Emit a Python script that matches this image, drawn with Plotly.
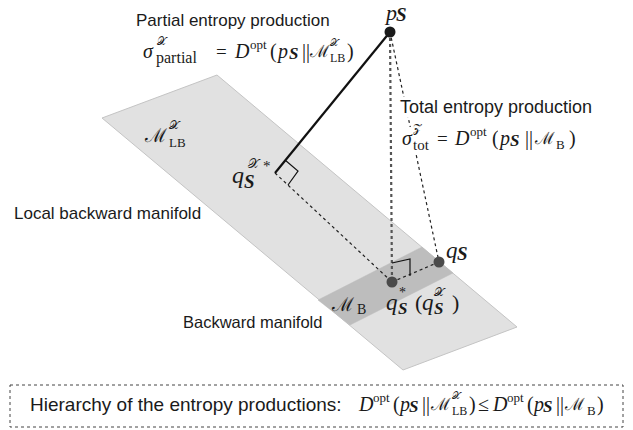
import plotly.graph_objects as go

# ---- diagram geometry (pixel-like coordinates, y downward) ----
lb_manifold_x = [217, 517, 403, 102]
lb_manifold_y = [75, 327, 370, 118]
b_manifold_x = [318, 422, 453, 350]
b_manifold_y = [300, 247, 273, 325]

point_names = ["p_S", "q_S_X_star", "q_S_star", "q_S"]
point_x = [390, 275, 392, 439]
point_y = [32, 173, 282, 262]

square1_x = [285, 298, 288]
square1_y = [160, 171, 185]
square2_x = [392, 410, 410]
square2_y = [263, 259, 276]

box_x = [10, 623]
box_y = [385, 427]

P = dict(zip(point_names, zip(point_x, point_y)))

SERIF = "Liberation Serif, DejaVu Serif, serif"
SANS = "Liberation Sans, Arial, sans-serif"
CAL = SERIF
TXT = "#1a1a1a"

fig = go.Figure()

fig.add_trace(go.Scatter(x=lb_manifold_x + [lb_manifold_x[0]], y=lb_manifold_y + [lb_manifold_y[0]],
                         mode="lines", fill="toself", fillcolor="#e1e1e1",
                         line=dict(color="#c4c4c4", width=1), hoverinfo="skip"))
fig.add_trace(go.Scatter(x=b_manifold_x + [b_manifold_x[0]], y=b_manifold_y + [b_manifold_y[0]],
                         mode="lines", fill="toself", fillcolor="#bdbdbd",
                         line=dict(color="#bdbdbd", width=0.5), hoverinfo="skip"))

def seg(a, b, **line):
    fig.add_trace(go.Scatter(x=[P[a][0], P[b][0]], y=[P[a][1], P[b][1]], mode="lines",
                             line=line, hoverinfo="skip"))

seg("q_S_X_star", "q_S_star", color="#222", width=1.2, dash="dot")
seg("q_S_star", "q_S", color="#222", width=1.2, dash="dot")
seg("p_S", "q_S", color="#222", width=1.2, dash="dot")
seg("p_S", "q_S_star", color="#555", width=2.2, dash="dot")
seg("p_S", "q_S_X_star", color="#111", width=2.2)

fig.add_trace(go.Scatter(x=square1_x, y=square1_y, mode="lines",
                         line=dict(color="#111", width=1.2), hoverinfo="skip"))
fig.add_trace(go.Scatter(x=square2_x, y=square2_y, mode="lines",
                         line=dict(color="#111", width=1.2), hoverinfo="skip"))

fig.add_trace(go.Scatter(x=[P["p_S"][0]], y=[P["p_S"][1]], mode="markers",
                         marker=dict(size=11, color="#1a1a1a"), hoverinfo="skip"))
fig.add_trace(go.Scatter(x=[P["q_S_star"][0], P["q_S"][0]], y=[P["q_S_star"][1], P["q_S"][1]],
                         mode="markers", marker=dict(size=11, color="#4a4a4a"), hoverinfo="skip"))

fig.add_shape(type="rect", x0=box_x[0], x1=box_x[1], y0=box_y[0], y1=box_y[1],
              line=dict(color="#444", width=1, dash="dot"), fillcolor="white")


def ann(x, y, text, size, font=SERIF, xanchor="left", bg=None):
    fig.add_annotation(x=x, y=y, text=text, showarrow=False, xanchor=xanchor, yanchor="middle",
                       font=dict(size=size, family=font, color=TXT),
                       bgcolor=bg, borderpad=0, borderwidth=0)


def runs(y, items, bg=None):
    for it in items:
        x, text, size, dy = it[:4]
        fam = it[4] if len(it) > 4 else SERIF
        ann(x, y + dy, text, size, font=fam, bg=bg)


I = lambda s: "<i>" + s + "</i>"
BI = lambda s: "<b><i>" + s + "</i></b>"
M = "ℳ"
X = "𝒳"

# plain sans labels
ann(136, 20, "Partial entropy production", 17, SANS)
ann(400, 107, "Total entropy production", 18, SANS, bg="white")
ann(14, 213, "Local backward manifold", 17, SANS)
ann(183, 322, "Backward manifold", 16.5, SANS)
ann(30, 404, "Hierarchy of the entropy productions:", 19, SANS)

# sigma partial formula
runs(51, [(143, I("σ"), 20, 0), (157, X, 11, -10), (156, "partial", 16, 7),
          (216, "=", 19, 0), (234, I("D"), 20, 0), (250, "opt", 13, -7),
          (270, "(", 20, 0), (276, I("p"), 20, 0), (289, BI("S"), 17, 2), (302, "||", 20, 0),
          (309, M, 17, 0, CAL), (330, X, 10, -9), (330, "LB", 12, 7), (347, ")", 20, 0)])

# sigma tot formula
runs(138, [(402, I("σ"), 20, 0), (413, "𝒵", 11, -10), (413, "tot", 15, 7),
           (437, "=", 19, 0), (454, I("D"), 20, 0), (470, "opt", 13, -7),
           (492, "(", 20, 0), (498, I("p"), 20, 0), (510, BI("S"), 17, 2), (525, "||", 20, 0),
           (534, M, 17, 0, CAL), (556, "B", 13, 6), (569, ")", 20, 0)], bg="white")

# p_S
runs(12, [(384, I("p"), 22, 0), (396, BI("S"), 19, 2)])
# M^X_LB
runs(135, [(144, M, 19, 0, CAL), (169, X, 12, -10), (169, "LB", 13, 7)])
# q_S^X*
runs(175, [(232, I("q"), 24, 0), (244, BI("S"), 19, 6), (248, X, 13, -12), (263, "*", 15, -9)])
# q_S
runs(250, [(446, I("q"), 23, 0), (457, BI("S"), 19, 3)])
# M_B
runs(304, [(331, M, 19, 0, CAL), (357, "B", 14, 5)])
# q*_S (q^X_S)
runs(302, [(386, I("q"), 23, 0), (399, "*", 14, -10), (398, BI("S"), 17, 6),
           (415, "(", 22, 0), (422, I("q"), 23, 0), (434, X, 12, -10), (434, BI("S"), 17, 6),
           (452, ")", 22, 0)])

# bottom hierarchy formula
runs(404, [(358, I("D"), 20, 0), (373, "opt", 13, -7), (393, "(", 20, 0), (398, I("p"), 20, 0),
           (409, BI("S"), 17, 2), (422, "||", 20, 0), (430, M, 17, 0, CAL), (452, X, 10, -9),
           (452, "LB", 12, 7), (469, ")", 20, 0), (478, "≤", 20, 0),
           (492, I("D"), 20, 0), (507, "opt", 13, -7), (527, "(", 20, 0), (532, I("p"), 20, 0),
           (543, BI("S"), 17, 2), (556, "||", 20, 0), (564, M, 17, 0, CAL), (587, "B", 13, 6),
           (597, ")", 20, 0)])

fig.update_layout(width=633, height=430, autosize=False, margin=dict(l=0, r=0, t=0, b=0),
                  paper_bgcolor="white", plot_bgcolor="white", showlegend=False)
fig.update_xaxes(range=[0, 633], visible=False, fixedrange=True)
fig.update_yaxes(range=[430, 0], visible=False, fixedrange=True)

fig.write_html("out.html", config={"displayModeBar": False},
               post_script="document.body.style.margin='0';document.body.style.overflow='hidden';")
